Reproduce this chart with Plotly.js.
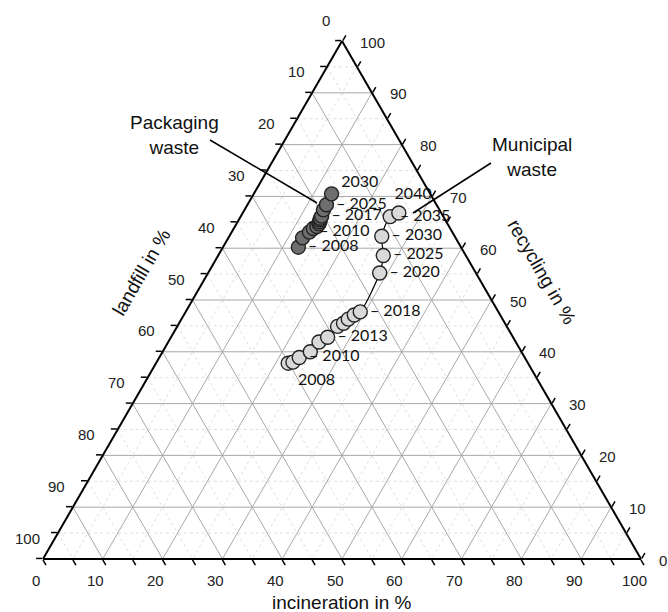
<!DOCTYPE html>
<html><head><meta charset="utf-8">
<script src="https://cdn.plot.ly/plotly-3.0.1.min.js"></script>
<style>body{margin:0;background:#fff}</style>
</head><body><div id="chart" style="width:668px;height:612px"></div>
<script>
// ---- data (percent) ----
const municipalYears = [2008,2009,2010,2011,2012,2013,2014,2015,2016,2017,2018,2020,2025,2030,2035,2040];
const municipalRecycling   = [37.8,38.0,38.9,40.0,41.9,42.8,44.9,45.5,46.3,47.1,47.7,55.2,58.6,62.3,66.1,66.8];
const municipalIncineration= [22.1,22.8,23.4,24.7,25.2,26.2,26.8,27.5,27.9,28.5,29.2,28.7,27.6,25.5,25.0,26.1];
const municipalLandfill    = [40.1,39.2,37.7,35.3,32.9,31.0,28.3,27.0,25.8,24.4,23.1,16.1,13.8,12.2,8.9,7.1];
const municipalLabelYears  = [2008,2010,2013,2018,2020,2025,2030,2035,2040];

const packagingYears = [2008,2009,2010,2011,2012,2013,2014,2015,2016,2017,2020,2025,2030];
const packagingRecycling   = [60.2,62.0,63.1,63.8,64.2,64.7,65.1,65.5,65.8,66.2,67.4,68.4,70.5];
const packagingIncineration= [12.6,12.4,13.0,13.3,13.7,13.8,13.7,13.6,13.5,13.5,13.2,13.2,13.0];
const packagingLandfill    = [27.2,25.6,23.9,22.9,22.1,21.5,21.2,20.9,20.7,20.3,19.4,18.4,16.5];
const packagingLabelYears  = [2008,2010,2017,2025,2030];

const majorTicks = [0,10,20,30,40,50,60,70,80,90,100];
const tickLabels = ['0','10','20','30','40','50','60','70','80','90','100'];
const allTicks = [0,5,10,15,20,25,30,35,40,45,50,55,60,65,70,75,80,85,90,95,100];
const majorGridLevels = [10,20,30,40,50,60,70,80,90];
const minorGridLevels = [5,15,25,35,45,55,65,75,85,95];

// ---- label styling per point ----
const NB = '\u00a0';
const labelStyle = {
  municipal: {2008:'plain-below', 2040:'above'},
  packaging: {2030:'plain-raised'}
};
function labelText(y, key){
  const s = labelStyle[key][y];
  if(s === 'plain-below') return String(y);
  if(s === 'above') return NB.repeat(7) + y;
  if(s === 'plain-raised') return y + '<br>' + NB;
  return '– ' + y;
}
function labelPosition(y, key){
  const s = labelStyle[key][y];
  if(s === 'plain-below') return 'bottom right';
  if(s === 'above') return 'top center';
  return 'middle right';
}
function texts(years, labelled, key){ return years.map(y => labelled.includes(y) ? labelText(y,key) : ''); }
function positions(years, key){ return years.map(y => labelPosition(y, key)); }

// grid lines (constant a, b, c levels)
function gridTrace(levels, style){
  const a=[],b=[],c=[];
  levels.forEach(L=>{
    a.push(L,L,null); b.push(100-L,0,null); c.push(0,100-L,null);
    b.push(L,L,null); a.push(100-L,0,null); c.push(0,100-L,null);
    c.push(L,L,null); a.push(100-L,0,null); b.push(0,100-L,null);
  });
  return {type:'scatterternary', mode:'lines', a:a, b:b, c:c, hoverinfo:'skip', showlegend:false, line:style};
}

const yearFont = {family:'Lato, "Open Sans", sans-serif', size:16, color:'#111'};

const traces = [
  gridTrace(minorGridLevels, {color:'#d6d6d6', width:0.8, dash:'3px,3px'}),
  gridTrace(majorGridLevels, {color:'#a8a8a8', width:1}),
  {type:'scatterternary', mode:'lines+markers+text', name:'Municipal waste',
   a:municipalRecycling, b:municipalLandfill, c:municipalIncineration,
   text:texts(municipalYears, municipalLabelYears, 'municipal'), textposition:positions(municipalYears,'municipal'),
   textfont:yearFont, cliponaxis:false,
   line:{color:'#000', width:1.2, shape:'spline', smoothing:0.8},
   marker:{size:14, color:'#d9d9d9', line:{color:'#222', width:1.4}}},
  {type:'scatterternary', mode:'lines+markers+text', name:'Packaging waste',
   a:packagingRecycling, b:packagingLandfill, c:packagingIncineration,
   text:texts(packagingYears, packagingLabelYears, 'packaging'), textposition:positions(packagingYears,'packaging'),
   textfont:yearFont, cliponaxis:false,
   line:{color:'#000', width:1.2, shape:'spline', smoothing:0.8},
   marker:{size:14, color:'#6e6e6e', line:{color:'#222', width:1.4}}}
];

function axis(){
  return {tickvals:allTicks, showticklabels:false,
    ticks:'outside', ticklen:6, tickwidth:1.5, tickcolor:'#000',
    showline:true, linecolor:'#000', linewidth:2,
    showgrid:false, title:{text:''}, min:0};
}

// plot-area geometry (pixels) used to place text labels
const L=43, T=41, W=598, H=518;
const px = x => (x-L)/W, py = y => (T+H-y)/H;
const tickFont  = {family:'"Liberation Sans", Arial, sans-serif', size:15, color:'#222'};
const titleFont = {family:'"Liberation Sans", Arial, sans-serif', size:19, color:'#111'};
const triH = W*Math.sqrt(3)/2;
const topX = L + W/2, topY = T + H - triH, baseY = T + H;

const annotations = [];
majorTicks.forEach((v,i)=>{
  const f = v/100;
  // left edge: landfill, 0 at top -> 100 at bottom-left
  annotations.push({xref:'paper', yref:'paper', x:px(topX - f*W/2 - 16), y:py(topY + f*triH - 21),
    text:tickLabels[i], showarrow:false, xanchor:'center', yanchor:'middle', font:tickFont});
  // right edge: recycling, 0 at bottom-right -> 100 at top
  annotations.push({xref:'paper', yref:'paper', x:px(L + W - f*W/2 + 16), y:py(baseY - f*triH + 1),
    text:tickLabels[i], showarrow:false, xanchor:'left', yanchor:'middle', font:tickFont});
  // bottom edge: incineration, 0 at left -> 100 at right
  annotations.push({xref:'paper', yref:'paper', x:px(L + f*W - 7), y:py(baseY + 21),
    text:tickLabels[i], showarrow:false, xanchor:'center', yanchor:'middle', font:tickFont});
});
annotations.push(
  {xref:'paper', yref:'paper', x:px(342), y:py(602), text:'incineration in %', showarrow:false, xanchor:'center', yanchor:'middle', font:titleFont},
  {xref:'paper', yref:'paper', x:px(141), y:py(272), text:'landfill in %', textangle:-60, showarrow:false, xanchor:'center', yanchor:'middle', font:titleFont},
  {xref:'paper', yref:'paper', x:px(542), y:py(271), text:'recycling in %', textangle:60, showarrow:false, xanchor:'center', yanchor:'middle', font:titleFont},
  {xref:'paper', yref:'paper', x:px(174), y:py(135), text:'Packaging<br>waste', showarrow:false, xanchor:'center', yanchor:'middle', font:titleFont},
  {xref:'paper', yref:'paper', x:px(532), y:py(157), text:'Municipal<br>waste', showarrow:false, xanchor:'center', yanchor:'middle', font:titleFont}
);

const layout = {
  width:668, height:612,
  margin:{l:L, r:668-L-W, t:T, b:612-T-H},
  paper_bgcolor:'#fff', showlegend:false, hovermode:false,
  font:{family:'"Liberation Sans", Arial, sans-serif'},
  ternary:{sum:100, bgcolor:'#fff', domain:{x:[0,1], y:[0,1]},
    aaxis:axis(), baxis:axis(), caxis:axis()},
  annotations:annotations,
  shapes:[
    {type:'line', xref:'paper', yref:'paper', x0:px(210), y0:py(140), x1:px(317), y1:py(203), line:{color:'#000', width:1.5}},
    {type:'line', xref:'paper', yref:'paper', x0:px(491), y0:py(163), x1:px(413), y1:py(213), line:{color:'#000', width:1.5}}
  ]
};

Plotly.newPlot('chart', traces, layout, {displayModeBar:false, staticPlot:true});
</script>
</body></html>
